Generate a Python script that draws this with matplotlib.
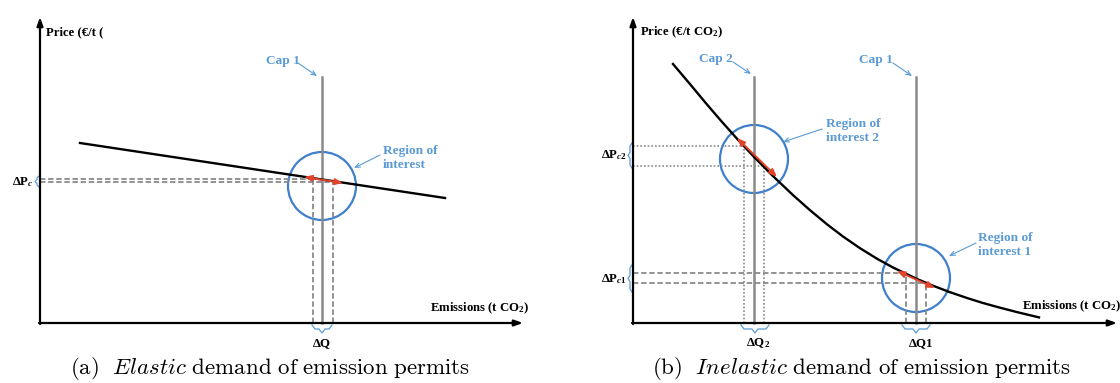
import matplotlib
matplotlib.use("Agg")
import matplotlib.pyplot as plt
from matplotlib.patches import Circle

plt.rcParams['font.family'] = ['Liberation Serif', 'DejaVu Serif']
plt.rcParams['font.weight'] = 'bold'
plt.rcParams['mathtext.fontset'] = 'custom'
plt.rcParams['mathtext.rm'] = 'Liberation Serif:bold'
plt.rcParams['mathtext.bf'] = 'Liberation Serif:bold'
plt.rcParams['mathtext.it'] = 'Liberation Serif:bold:italic'

# panel (a): elastic demand, coordinates relative to the axis origin
demand_a_x = [40, 405]
demand_a_y = [180, 125]
cap_a = 282
circle_a = (282, 137)
dq_a = [273, 293]
dp_a = [144, 141]
arrow_a = [(264, 146), (303, 140)]

# panel (b): inelastic demand
demand_b_x = [40, 57, 74, 89, 104, 121, 140, 160, 177, 194, 210, 227, 244, 260,
              284, 300, 317, 334, 350, 367, 384, 406]
demand_b_y = [259, 238.9, 218.5, 201.1, 184.3, 166.1, 146.9, 127.9, 112.8, 98.7,
              86.5, 74.8, 64.3, 55.5, 44.0, 37.3, 30.8, 25.0, 20.0, 15.3, 10.9, 5.6]
caps_b = [121, 283]
circles_b = [(121, 164), (283, 45)]
dq2_b = [111, 131]
dp2_b = [177, 157]
dq1_b = [273, 293]
dp1_b = [50, 40]
arrow2_b = [(104, 185), (144, 146)]
arrow1_b = [(264, 52), (302, 35)]

BLUE_TXT = '#5b9bd5'
BLUE = '#3f7fcb'
GREY = '#8a8a8a'
RED = '#e0452b'
R = 34
FS = 9.2
FS_BLUE = 9.6

fig = plt.figure(figsize=(11.2, 3.83), dpi=100)
ax_a = fig.add_axes([0, 0, 0.5, 1])
ax_b = fig.add_axes([0.5, 0, 0.5, 1])
ax_a.set_xlim(-40, 520)
ax_b.set_xlim(-73, 487)
for ax in (ax_a, ax_b):
    ax.set_ylim(-60, 323)
    ax.axis('off')


def brace(ax, a, b, pos, tip, vertical=True):
    # simple bracket shape from a to b, tip pointing by tip (signed)
    m = (a + b) / 2
    d = 2 if abs(b - a) < 15 else 3
    h = tip / 2
    s = 1 if b > a else -1
    along = [a, a + s * d, m - s * d, m, m + s * d, b - s * d, b]
    across = [pos, pos + h, pos + h, pos + tip, pos + h, pos + h, pos]
    if vertical:
        ax.plot(across, along, color=BLUE_TXT, lw=0.9)
    else:
        ax.plot(along, across, color=BLUE_TXT, lw=0.9)


def axes_arrows(ax, xtip):
    kw = dict(arrowstyle='-|>,head_length=0.5,head_width=0.18', color='black', lw=1.6,
              shrinkA=0, shrinkB=0)
    ax.annotate('', xy=(0, 306), xytext=(0, -1), arrowprops=kw)
    ax.annotate('', xy=(xtip, 0), xytext=(-1, 0), arrowprops=kw)


def blue_arrow(ax, p0, p1):
    ax.annotate('', xy=p1, xytext=p0,
                arrowprops=dict(arrowstyle='->,head_length=0.35,head_width=0.15',
                                color=BLUE_TXT, lw=0.8, shrinkA=0, shrinkB=0))


def red_arrow(ax, p0, p1):
    ax.annotate('', xy=p1, xytext=p0,
                arrowprops=dict(arrowstyle='<|-|>,head_length=0.45,head_width=0.18',
                                color=RED, lw=1.4, shrinkA=0, shrinkB=0))


# ---- panel (a)
ax = ax_a
axes_arrows(ax, 483)
ax.plot([cap_a, cap_a], [0, 246], color=GREY, lw=1.8)
for x, y in zip(dq_a, dp_a):
    ax.plot([0, x], [y, y], color=GREY, lw=1.3, ls=(0, (3, 1.5)))
    ax.plot([x, x], [0, y], color=GREY, lw=1.3, ls=(0, (3, 1.5)))
ax.plot(demand_a_x, demand_a_y, color='black', lw=1.7)
red_arrow(ax, *arrow_a)
ax.add_patch(Circle(circle_a, R, fill=False, ec=BLUE, lw=1.6))
ax.text(6, 291, 'Price (€/t (', fontsize=FS, va='center')
ax.text(390, 15, 'Emissions (t CO$_\\mathrm{2}$)', fontsize=FS, va='center')
ax.text(226, 262, 'Cap 1', fontsize=FS_BLUE, color=BLUE_TXT, va='center')
blue_arrow(ax, (258, 260), (277, 247))
ax.text(343, 165, 'Region of\ninterest', fontsize=FS_BLUE, color=BLUE_TXT, va='center',
        linespacing=1.15)
blue_arrow(ax, (340, 168), (314, 155))
ax.text(282, -20, 'ΔQ', fontsize=FS, ha='center', va='center')
ax.text(-6, 141, 'ΔP$_{c}$', fontsize=FS, ha='right', va='center')
brace(ax, 147, 136, -1, -4, vertical=True)
brace(ax, 272, 292, -2, -8, vertical=False)

# ---- panel (b)
ax = ax_b
axes_arrows(ax, 484)
for c in caps_b:
    ax.plot([c, c], [0, 246], color=GREY, lw=1.8)
for x, y in zip(dq2_b, dp2_b):
    ax.plot([0, x], [y, y], color=GREY, lw=1.2, ls=(0, (1, 1.2)))
    ax.plot([x, x], [0, y], color=GREY, lw=1.2, ls=(0, (1, 1.2)))
for x, y in zip(dq1_b, dp1_b):
    ax.plot([0, x], [y, y], color=GREY, lw=1.3, ls=(0, (3, 1.5)))
    ax.plot([x, x], [0, y], color=GREY, lw=1.3, ls=(0, (3, 1.5)))
ax.plot(demand_b_x, demand_b_y, color='black', lw=1.7)
red_arrow(ax, *arrow2_b)
red_arrow(ax, *arrow1_b)
for c in circles_b:
    ax.add_patch(Circle(c, R, fill=False, ec=BLUE, lw=1.6))
ax.text(7, 291, 'Price (€/t CO$_\\mathrm{2}$)', fontsize=FS, va='center')
ax.text(389, 17, 'Emissions (t CO$_\\mathrm{2}$)', fontsize=FS, va='center')
ax.text(66, 264, 'Cap 2', fontsize=FS_BLUE, color=BLUE_TXT, va='center')
blue_arrow(ax, (100, 261), (118, 249))
ax.text(226, 263, 'Cap 1', fontsize=FS_BLUE, color=BLUE_TXT, va='center')
blue_arrow(ax, (260, 260), (279, 247))
ax.text(193, 192, 'Region of\ninterest 2', fontsize=FS_BLUE, color=BLUE_TXT, va='center',
        linespacing=1.15)
blue_arrow(ax, (189, 194), (150, 181))
ax.text(345, 78, 'Region of\ninterest 1', fontsize=FS_BLUE, color=BLUE_TXT, va='center',
        linespacing=1.15)
blue_arrow(ax, (343, 80), (316, 67))
ax.text(125, -20, 'ΔQ$_\\mathrm{2}$', fontsize=FS, ha='center', va='center')
ax.text(288, -20, 'ΔQ1', fontsize=FS, ha='center', va='center')
ax.text(-6, 168, 'ΔP$_{c2}$', fontsize=FS, ha='right', va='center')
ax.text(-6, 44, 'ΔP$_{c1}$', fontsize=FS, ha='right', va='center')
brace(ax, 180, 155, -1, -4, vertical=True)
brace(ax, 58, 31, -1, -4, vertical=True)
brace(ax, 108, 136, -2, -8, vertical=False)
brace(ax, 269, 297, -2, -8, vertical=False)

# captions
fig.text(270 / 1120, 1 - 369 / 383,
         r'$\mathrm{(a)\ \ }\mathit{Elastic}\mathrm{\ demand\ of\ emission\ permits}$',
         fontsize=16.5, ha='center', va='center', math_fontfamily='cm')
fig.text(861 / 1120, 1 - 369 / 383,
         r'$\mathrm{(b)\ \ }\mathit{Inelastic}\mathrm{\ demand\ of\ emission\ permits}$',
         fontsize=16.5, ha='center', va='center', math_fontfamily='cm')

fig.savefig('out.png', dpi=100)
